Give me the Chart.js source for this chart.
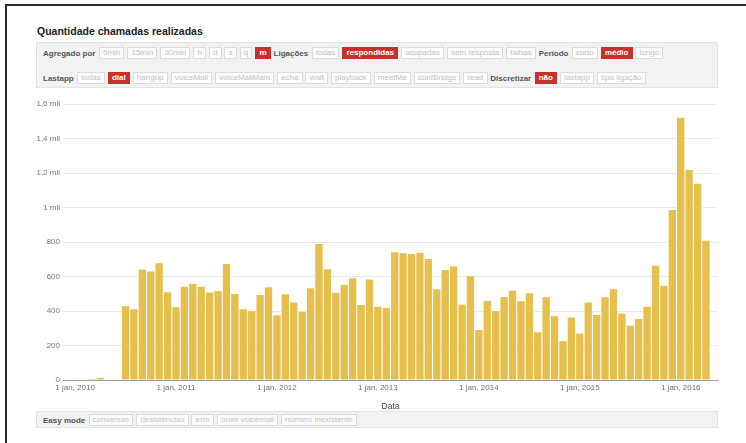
<!DOCTYPE html>
<html>
<head>
<meta charset="utf-8">
<script src="https://cdn.jsdelivr.net/npm/chart.js@4.4.0/dist/chart.umd.min.js"></script>
<style>
  body { margin: 0; width: 746px; height: 443px; overflow: hidden; background: #fff;
         font-family: "Liberation Sans", Arial, sans-serif; position: relative; }
  .frame { position: absolute; left: 5px; top: 4px; right: -10px; bottom: -10px;
           border-top: 2px solid #2b2b2b; border-left: 2px solid #2b2b2b; }
  .title { position: absolute; left: 37px; top: 26px; font-size: 10.5px; line-height: 11px;
           font-weight: bold; color: #222; }
  .panel { position: absolute; left: 36px; width: 682px; box-sizing: border-box;
           background: #f2f2f2; border: 1px solid #e3e3e3; }
  .row { position: absolute; left: 6px; display: flex; align-items: center; gap: 2.8px;
         font-size: 8px; white-space: nowrap; }
  .row b { color: #555; margin-right: 0.5px; }
  .row span { border: 1px solid #dcdcdc; background: #fcfcfc; color: #c2c2c2;
              padding: 0 3.2px; height: 10px; line-height: 10px; }
  .row span.on { background: #c9302c; border-color: #c9302c; color: #fff; font-weight: bold; }
  #chart { position: absolute; left: 0; top: 90px; width: 746px; height: 326px; }
</style>
</head>
<body>
<div class="frame"></div>
<div class="title">Quantidade chamadas realizadas</div>

<div class="panel" style="top:42px;height:46px">
  <div class="row" style="top:4px">
    <b>Agregado por</b>
    <span>5min</span><span>15min</span><span>30min</span><span>h</span><span>d</span><span>s</span><span>q</span><span class="on">m</span>
    <b>Ligações</b>
    <span>todas</span><span class="on">respondidas</span><span>ocupadas</span><span>sem resposta</span><span>falhas</span>
    <b>Período</b>
    <span>curto</span><span class="on">médio</span><span>longo</span>
  </div>
  <div class="row" style="top:29px">
    <b>Lastapp</b>
    <span>todas</span><span class="on">dial</span><span>hangup</span><span>voiceMail</span><span>voiceMailMain</span><span>echo</span><span>wait</span><span>playback</span><span>meetMe</span><span>confBridge</span><span>read</span>
    <b>Discretizar</b>
    <span class="on">não</span><span>lastapp</span><span>tipo ligação</span>
  </div>
</div>

<div id="chart"><canvas id="myChart" width="746" height="326"></canvas></div>

<div class="panel" style="top:411px;height:17px">
  <div class="row" style="top:2px">
    <b>Easy mode</b>
    <span>conversas</span><span>desistências</span><span>erro</span><span>ouvir voicemail</span><span>número inexistente</span>
  </div>
</div>

<script>
// calls per month, one array per year (2016 only up to april)
var y2010 = [2, 0, 6, 12, 0, 4, 428, 410, 640, 629, 677, 509];
var y2011 = [422, 540, 557, 540, 507, 515, 673, 499, 410, 399, 493, 538];
var y2012 = [375, 497, 449, 395, 532, 789, 642, 505, 551, 590, 435, 582];
var y2013 = [424, 418, 741, 735, 731, 737, 702, 526, 637, 658, 437, 602];
var y2014 = [290, 458, 399, 482, 518, 457, 503, 277, 480, 370, 225, 362];
var y2015 = [269, 449, 377, 480, 526, 385, 315, 354, 424, 662, 546, 985];
var y2016 = [1521, 1217, 1138, 807];

var yearLabels = ['1 jan, 2010', '1 jan, 2011', '1 jan, 2012', '1 jan, 2013', '1 jan, 2014', '1 jan, 2015', '1 jan, 2016'];
var yLabels = ['0', '200', '400', '600', '800', '1 mil', '1,2 mil', '1,4 mil', '1,6 mil'];

var counts = y2010.concat(y2011, y2012, y2013, y2014, y2015, y2016);
// x = months since jan 2010
var points = counts.map(function (c, i) {
    return { x: i, y: c };
});

var tickFont = { family: '"Liberation Sans", Arial, sans-serif', size: 8 };

var ctx = document.getElementById('myChart').getContext('2d');
var myChart = new Chart(ctx, {
    type: 'bar',
    data: {
        datasets: [{
            label: 'Quantidade',
            data: points,
            backgroundColor: '#e6bf4c',
            categoryPercentage: 1,
            barPercentage: 0.87
        }]
    },
    options: {
        responsive: false,
        animation: false,
        devicePixelRatio: 1,
        layout: { padding: { left: 0, right: 28, top: 14, bottom: 0 } },
        plugins: {
            legend: { display: false },
            tooltip: { enabled: false }
        },
        scales: {
            x: {
                type: 'linear',
                offset: false,
                min: -1.43,
                max: 76.43,
                afterBuildTicks: function (axis) {
                    axis.ticks = yearLabels.map(function (l, k) { return { value: k * 12 }; });
                },
                afterFit: function (axis) { axis.height = 36; },
                ticks: {
                    autoSkip: false,
                    maxRotation: 0,
                    padding: 3,
                    color: '#707070',
                    font: tickFont,
                    callback: function (v) { return yearLabels[Math.round(v / 12)]; }
                },
                grid: { display: false, drawTicks: false },
                border: { color: '#a0a0a0' },
                title: {
                    display: true,
                    text: 'Data',
                    color: '#444',
                    font: { family: '"Liberation Sans", Arial, sans-serif', size: 8.5 },
                    padding: { top: 0, bottom: 4 }
                }
            },
            y: {
                min: 0,
                max: 1600,
                afterBuildTicks: function (axis) {
                    axis.ticks = yLabels.map(function (l, k) { return { value: k * 200 }; });
                },
                afterFit: function (axis) { axis.width = 63; },
                ticks: {
                    padding: 3,
                    color: '#777',
                    font: tickFont,
                    callback: function (v) { return yLabels[Math.round(v / 200)]; }
                },
                grid: { color: '#ebebeb', drawTicks: false },
                border: { display: false }
            }
        }
    }
});
</script>
</body>
</html>
